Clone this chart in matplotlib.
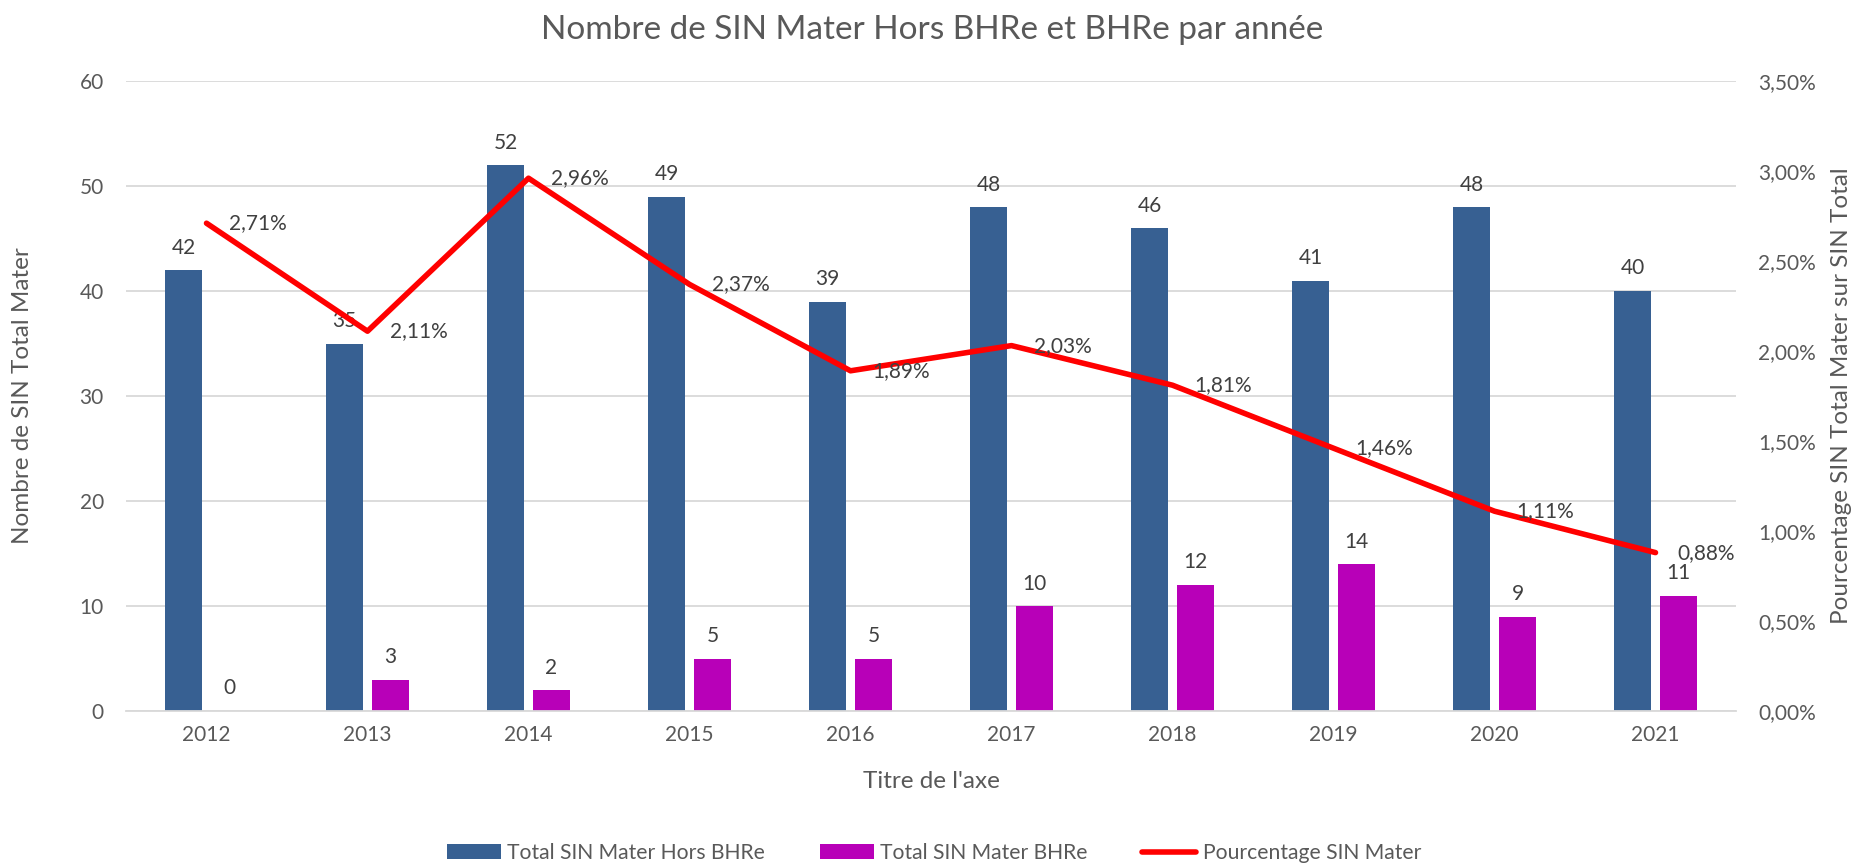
import matplotlib
matplotlib.use('Agg')
import matplotlib.pyplot as plt
from matplotlib.ticker import FuncFormatter, MultipleLocator
from matplotlib.lines import Line2D
from matplotlib.patches import Patch
import numpy as np

years = ['2012', '2013', '2014', '2015', '2016', '2017', '2018', '2019', '2020', '2021']
hors_bhre = [42, 35, 52, 49, 39, 48, 46, 41, 48, 40]
bhre = [0, 3, 2, 5, 5, 10, 12, 14, 9, 11]
pct = [2.71, 2.11, 2.96, 2.37, 1.89, 2.03, 1.81, 1.46, 1.11, 0.88]

series_names = ['Total SIN Mater Hors BHRe', 'Total SIN Mater BHRe', 'Pourcentage SIN Mater']
title = 'Nombre de SIN Mater Hors BHRe et BHRe par année'
xlabel = "Titre de l'axe"
ylabel_left = 'Nombre de SIN Total Mater'
ylabel_right = 'Pourcentage SIN Total Mater sur SIN Total'

BLUE = '#376092'
PURPLE = '#B800B8'
RED = '#FF0000'
TXT = '#595959'
LBL = '#404040'
GRID = '#D9D9D9'

plt.rcParams['font.family'] = ['Lato', 'DejaVu Sans']

W, H = 1857, 866
fig = plt.figure(figsize=(W / 100, H / 100), dpi=100)
ax = fig.add_axes([126 / W, (H - 711) / H, 1610 / W, 630 / H])

x = np.arange(len(years))
bw = 0.224
off = 0.143
ax.bar(x - off, hors_bhre, bw, color=BLUE, zorder=2)
ax.bar(x + off, bhre, bw, color=PURPLE, zorder=2)

ax.set_xlim(-0.5, len(years) - 0.5)
ax.set_ylim(0, 60)
ax.yaxis.set_major_locator(MultipleLocator(10))
ax.set_xticks(x)
ax.set_xticklabels(years)
ax.grid(axis='y', color=GRID, lw=1.3, zorder=0)
ax.set_axisbelow(True)
for s in ['top', 'left', 'right']:
    ax.spines[s].set_visible(False)
ax.spines['bottom'].set_color(GRID)
ax.spines['bottom'].set_linewidth(1.3)
ax.tick_params(axis='both', length=0, colors=TXT, labelsize=15)
ax.tick_params(axis='x', pad=10)
ax.tick_params(axis='y', pad=16)

for xi, v in zip(x - off, hors_bhre):
    ax.annotate(str(v), (xi, v), xytext=(0, 9), textcoords='offset points',
                ha='center', va='bottom', fontsize=15, color=LBL)
for xi, v in zip(x + off, bhre):
    ax.annotate(str(v), (xi, v), xytext=(0, 9), textcoords='offset points',
                ha='center', va='bottom', fontsize=15, color=LBL)

ax2 = ax.twinx()
ax2.plot(x, pct, color=RED, lw=4, solid_capstyle='round', solid_joinstyle='round', zorder=3)
ax2.set_ylim(0, 3.5)
ax2.yaxis.set_major_locator(MultipleLocator(0.5))
ax2.yaxis.set_major_formatter(FuncFormatter(lambda v, p: f'{v:.2f}%'.replace('.', ',')))
for s in ['top', 'left', 'right', 'bottom']:
    ax2.spines[s].set_visible(False)
ax2.tick_params(axis='y', length=0, colors=TXT, labelsize=15, pad=16)
for xi, v in zip(x, pct):
    ax2.annotate(f'{v:.2f}%'.replace('.', ','), (xi, v), xytext=(16, 0), textcoords='offset points',
                 ha='left', va='center', fontsize=15, color=LBL)

fig.text(932 / W, 1 - 39 / H, title, ha='center', va='baseline', fontsize=24, color=TXT)
fig.text(931 / W, 1 - 781 / H, xlabel, ha='center', va='center', fontsize=17.5, color=TXT)
fig.text(23 / W, 1 - 396 / H, ylabel_left, ha='center', va='center', rotation=90, fontsize=17.5, color=TXT)
fig.text(1841 / W, 1 - 396 / H, ylabel_right, ha='center', va='center', rotation=90, fontsize=17.5, color=TXT)

handles = [Patch(facecolor=BLUE), Patch(facecolor=PURPLE),
           Line2D([0], [0], color=RED, lw=4, solid_capstyle='round')]
fig.legend(handles, series_names, loc='center', bbox_to_anchor=(934 / W, 1 - 853 / H),
           ncol=3, frameon=False, fontsize=15.2, labelcolor=TXT,
           handlelength=2.55, handleheight=0.7, handletextpad=0.3, columnspacing=2.6)

fig.savefig('out.png', dpi=100)
